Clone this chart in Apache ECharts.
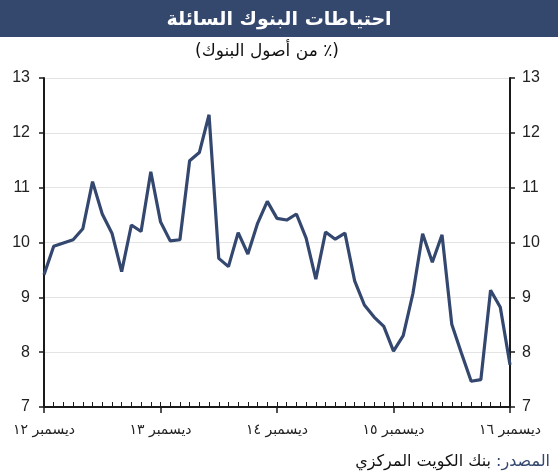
<!DOCTYPE html>
<html>
<head>
<meta charset="utf-8">
<script src="https://cdn.jsdelivr.net/npm/echarts@6/dist/echarts.min.js"></script>
<style>
  html, body { margin: 0; padding: 0; background: #fff; }
  #main { width: 558px; height: 473px; }
</style>
</head>
<body>
<div id="main" dir="rtl"></div>
<script>
// ديسمبر 2012 .. ديسمبر 2016, monthly
var yearLabels = ['ديسمبر ١٢', 'ديسمبر ١٣', 'ديسمبر ١٤', 'ديسمبر ١٥', 'ديسمبر ١٦'];
var reserves = [
  9.41, 9.93, 9.99, 10.05, 10.25, 11.11, 10.52, 10.17, 9.47, 10.32, 10.20, 11.29,
  10.38, 10.03, 10.05, 11.49, 11.64, 12.33, 9.71, 9.56, 10.18, 9.79, 10.35, 10.75,
  10.44, 10.41, 10.52, 10.08, 9.33, 10.19, 10.06, 10.17, 9.30, 8.86, 8.64, 8.47,
  8.02, 8.30, 9.07, 10.16, 9.64, 10.14, 8.51, 7.98, 7.47, 7.50, 9.13, 8.82,
  7.77
];
var yTicks = [7, 13, 1]; // min, max, step

var months = reserves.map(function (v, i) { return String(i); });
var axisColor = '#1a1a1a';
var lineColor = '#34476f';
var numFont = 'Liberation Sans, Arial, DejaVu Sans, sans-serif';
var arFont = 'DejaVu Sans, Liberation Sans, sans-serif';

var myChart = echarts.init(document.getElementById('main'));
var option = {
  animation: false,
  backgroundColor: '#fff',
  graphic: [
    {
      type: 'rect',
      left: 0, top: 0,
      shape: { width: 558, height: 37 },
      style: { fill: '#34486e' },
      z: 0
    }
  ],
  title: [
    {
      text: 'احتياطات البنوك السائلة',
      left: 'center',
      top: 6,
      textStyle: { color: '#fff', fontSize: 19, fontWeight: 'bold', fontFamily: arFont }
    },
    {
      text: '(٪ من أصول البنوك)',
      left: 190,
      top: 38,
      textStyle: { color: '#111', fontSize: 17, fontWeight: 'normal', fontFamily: arFont }
    },
    {
      text: '{b|بنك الكويت المركزي}{a|المصدر:}',
      right: 3,
      top: 449,
      textStyle: {
        fontFamily: arFont,
        fontWeight: 'normal',
        rich: {
          a: { color: '#34486e', fontSize: 16, fontWeight: 'normal', fontFamily: arFont, padding: [0, 0, 0, 5] },
          b: { color: '#111', fontSize: 16, fontWeight: 'normal', fontFamily: arFont }
        }
      }
    }
  ],
  grid: { left: 44, right: 48, top: 78, bottom: 66 },
  xAxis: [
    {
      type: 'category',
      data: months,
      boundaryGap: false,
      axisLine: { lineStyle: { color: axisColor, width: 2 } },
      axisTick: { show: true, inside: true, length: 5, interval: 0, lineStyle: { color: axisColor, width: 1 } },
      axisLabel: { show: false },
      splitLine: { show: false }
    },
    {
      type: 'category',
      data: months,
      boundaryGap: false,
      position: 'bottom',
      axisLine: { show: false },
      axisTick: {
        show: true, length: 6,
        interval: function (i) { return i % 12 === 0; },
        lineStyle: { color: axisColor, width: 1.5 }
      },
      axisLabel: {
        interval: function (i) { return i % 12 === 0; },
        formatter: function (v, i) { return yearLabels[i / 12]; },
        margin: 16,
        color: '#222',
        fontSize: 14,
        fontFamily: arFont
      },
      splitLine: { show: false }
    }
  ],
  yAxis: [
    {
      type: 'value',
      min: yTicks[0], max: yTicks[1], interval: yTicks[2],
      position: 'left',
      axisLine: { show: true, lineStyle: { color: axisColor, width: 2 } },
      axisTick: { show: true, length: 5, lineStyle: { color: axisColor, width: 1.5 } },
      axisLabel: { color: '#222', fontSize: 16, margin: 14, fontFamily: numFont },
      splitLine: { lineStyle: { color: '#e4e4e4', width: 1 } }
    },
    {
      type: 'value',
      min: yTicks[0], max: yTicks[1], interval: yTicks[2],
      position: 'right',
      axisLine: { show: true, lineStyle: { color: axisColor, width: 2 } },
      axisTick: { show: true, length: 5, lineStyle: { color: axisColor, width: 1.5 } },
      axisLabel: { color: '#222', fontSize: 16, margin: 12, fontFamily: numFont },
      splitLine: { show: false }
    }
  ],
  series: [
    {
      type: 'line',
      data: reserves,
      xAxisIndex: 0,
      yAxisIndex: 0,
      symbol: 'none',
      lineStyle: { color: lineColor, width: 3.2 },
      z: 3
    }
  ]
};
myChart.setOption(option);
window.addEventListener('resize', () => {
  myChart.resize();
});
</script>
</body>
</html>
